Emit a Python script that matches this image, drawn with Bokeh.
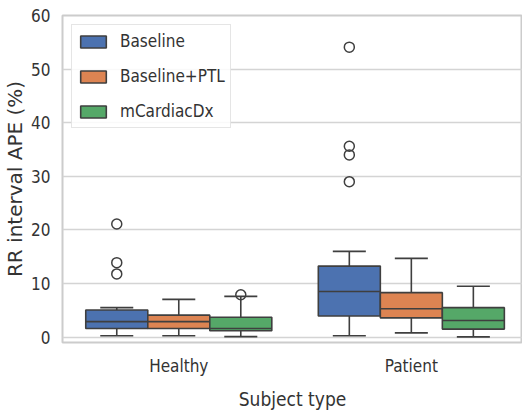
from bokeh.plotting import figure
from bokeh.models import Range1d, FixedTicker, Legend, LegendItem, ColumnDataSource
from bokeh.embed import file_html
from bokeh.resources import INLINE

# ---- data ----
subjects = ["Healthy", "Patient"]
methods = ["Baseline", "Baseline+PTL", "mCardiacDx"]
colors = ["#4c72b0", "#dd8452", "#55a868"]

# per method: values for [Healthy, Patient]
whisk_lo = {"Baseline": [0.25, 0.25], "Baseline+PTL": [0.25, 0.8], "mCardiacDx": [0.1, 0.05]}
q1 = {"Baseline": [1.6, 3.95], "Baseline+PTL": [1.6, 3.6], "mCardiacDx": [1.2, 1.5]}
median = {"Baseline": [2.9, 8.5], "Baseline+PTL": [2.9, 5.3], "mCardiacDx": [1.6, 3.1]}
q3 = {"Baseline": [5.05, 13.25], "Baseline+PTL": [4.1, 8.3], "mCardiacDx": [3.7, 5.5]}
whisk_hi = {"Baseline": [5.5, 16.0], "Baseline+PTL": [7.05, 14.7], "mCardiacDx": [7.6, 9.5]}
outliers = {
    "Baseline": [[21.1, 13.9, 11.8], [54.1, 35.6, 34.0, 29.0]],
    "Baseline+PTL": [[], []],
    "mCardiacDx": [[7.9], []],
}
y_ticks = [0, 10, 20, 30, 40, 50, 60]
x_title = "Subject type"
y_title = "RR interval APE (%)"

FONT = "DejaVu Sans Condensed"
TXT = "#333333"
EDGE = "#3f3f3f"

p = figure(width=522, height=412, output_backend="svg", toolbar_location=None,
           x_range=Range1d(-0.5, 1.478), y_range=Range1d(-1, 60),
           min_border_left=55, min_border_right=0, min_border_top=15, min_border_bottom=0)

box_w = 0.8 / 3
cap_hw = 0.071
legend_items = []
for k, m in enumerate(methods):
    off = (k - 1) * box_w
    xs = [i + off for i in range(len(subjects))]
    src = ColumnDataSource(dict(
        x=xs,
        left=[x - box_w / 2 for x in xs], right=[x + box_w / 2 for x in xs],
        q1=q1[m], q3=q3[m], med=median[m], lo=whisk_lo[m], hi=whisk_hi[m],
        cl=[x - cap_hw for x in xs], cr=[x + cap_hw for x in xs],
    ))
    p.segment(x0="x", y0="q3", x1="x", y1="hi", source=src, line_color=EDGE, line_width=1.6)
    p.segment(x0="x", y0="q1", x1="x", y1="lo", source=src, line_color=EDGE, line_width=1.6)
    p.segment(x0="cl", y0="hi", x1="cr", y1="hi", source=src, line_color=EDGE, line_width=1.6)
    p.segment(x0="cl", y0="lo", x1="cr", y1="lo", source=src, line_color=EDGE, line_width=1.6)
    r = p.quad(left="left", right="right", bottom="q1", top="q3", source=src,
               fill_color=colors[k], line_color=EDGE, line_width=1.6)
    p.segment(x0="left", y0="med", x1="right", y1="med", source=src, line_color=EDGE, line_width=1.6)
    ox, oy = [], []
    for i in range(len(subjects)):
        for v in outliers[m][i]:
            ox.append(xs[i])
            oy.append(v)
    if ox:
        p.scatter(ox, oy, marker="circle", size=10, fill_color=None,
                  line_color=EDGE, line_width=1.5)
    legend_items.append(LegendItem(label=m, renderers=[r]))

legend = Legend(items=legend_items, location="top_left")
legend.label_text_font = FONT
legend.label_text_font_size = "17px"
legend.label_text_color = TXT
legend.glyph_width = 32
legend.glyph_height = 15
legend.label_height = 22
legend.label_standoff = 11
legend.spacing = 13
legend.padding = 5
legend.margin = 9
legend.border_line_color = "#cccccc"
legend.border_line_width = 1
legend.background_fill_alpha = 0.85
p.add_layout(legend)

p.xaxis.ticker = FixedTicker(ticks=list(range(len(subjects))))
p.xaxis.major_label_overrides = {i: s for i, s in enumerate(subjects)}
p.yaxis.ticker = FixedTicker(ticks=y_ticks)
p.xgrid.grid_line_color = None
p.ygrid.grid_line_color = "#d4d4d4"
p.ygrid.grid_line_width = 1.5

for ax in (p.xaxis[0], p.yaxis[0]):
    ax.axis_line_color = None
    ax.major_tick_line_color = None
    ax.minor_tick_line_color = None
    ax.major_label_text_font = FONT
    ax.major_label_text_font_size = "17px"
    ax.major_label_text_color = TXT
    ax.axis_label_text_font_style = "normal"
    ax.axis_label_text_color = TXT

p.xaxis.axis_label = x_title
p.xaxis.axis_label_text_font = FONT
p.xaxis.axis_label_text_font_size = "19px"
p.yaxis.axis_label = y_title
p.yaxis.axis_label_text_font = "DejaVu Sans"
p.yaxis.axis_label_text_font_size = "20px"

p.xaxis.major_label_standoff = 7
p.xaxis.axis_label_standoff = 9
p.yaxis.major_label_standoff = 6
p.yaxis.axis_label_standoff = 1

p.outline_line_color = "#cccccc"
p.outline_line_width = 2
p.background_fill_color = "white"
p.border_fill_color = "white"

open("out.html", "w").write(file_html(p, INLINE))
